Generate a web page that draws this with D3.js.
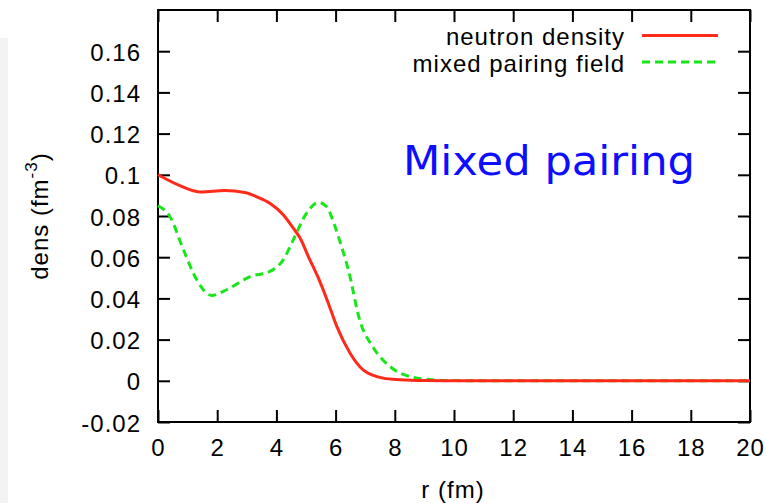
<!DOCTYPE html>
<html>
<head>
<meta charset="utf-8">
<script src="https://cdn.jsdelivr.net/npm/d3@7"></script>
<style>
  body { margin: 0; background: #fff; }
  svg { display: block; }
  text { font-family: "Liberation Sans", Arial, sans-serif; fill: #000; }
</style>
</head>
<body>
<div id="chart"></div>
<script>
// neutron density (red, solid)
const densityR = [0, 0.68, 1.46, 2.25, 2.93, 3.38, 3.78, 4.23, 4.57, 4.8, 5.08, 5.42, 5.75, 6.04, 6.49, 6.93, 7.6, 8.18, 9.0, 10, 12, 15, 20];
const densityV = [0.1, 0.0951, 0.0916, 0.0924, 0.0914, 0.0891, 0.0862, 0.0806, 0.0741, 0.0693, 0.0603, 0.0498, 0.0378, 0.0264, 0.0134, 0.0053, 0.0013, 0.0005, 0.0001, 0, 0, 0, 0];

// mixed pairing field (green, dashed)
const pairingR = [0, 0.4, 0.86, 1.31, 1.81, 2.32, 3.11, 3.78, 4.23, 4.57, 5.02, 5.42, 5.69, 5.98, 6.2, 6.43, 6.82, 7.27, 7.84, 8.18, 8.6, 9.2, 10, 12, 15, 20];
const pairingV = [0.085, 0.0798, 0.0636, 0.049, 0.0414, 0.0442, 0.0506, 0.0531, 0.0587, 0.0684, 0.0814, 0.0866, 0.0846, 0.0749, 0.0652, 0.0539, 0.0292, 0.0162, 0.0069, 0.0037, 0.0018, 0.0006, 0.0001, 0, 0, 0];

const xTicks = [0, 2, 4, 6, 8, 10, 12, 14, 16, 18, 20];
const yTicks = [-0.02, 0, 0.02, 0.04, 0.06, 0.08, 0.1, 0.12, 0.14, 0.16];
const seriesNames = ["neutron density", "mixed pairing field"];

const width = 766, height = 503;
const mLeft = 158, mRight = 750, mTop = 10, mBottom = 422;

const svg = d3.select("#chart").append("svg").attr("width", width).attr("height", height);

// faint slide background strip on the far left
svg.append("rect").attr("x", 0).attr("y", 38).attr("width", 8).attr("height", height - 38).attr("fill", "#f3f3f3");

const x = d3.scaleLinear().domain([0, 20]).range([mLeft, mRight]);
const y = d3.scaleLinear().domain([-0.02, 0.18]).range([mBottom, mTop]);

const fmt = d => String(+d.toFixed(2));

const axisFont = g => g.selectAll("text")
    .style("font-size", "24px").style("letter-spacing", "1px").attr("fill", "#000");
const axisStroke = g => {
    g.select(".domain").remove();
    g.selectAll(".tick line").attr("stroke", "#000").attr("stroke-width", 2);
};

svg.append("g").attr("transform", `translate(${mLeft},0)`)
    .call(d3.axisLeft(y).tickValues(yTicks).tickFormat(fmt).tickSizeInner(-12).tickSizeOuter(0).tickPadding(17))
    .call(axisStroke).call(axisFont)
    .selectAll("text").attr("dy", "0.38em");

svg.append("g").attr("transform", `translate(${mRight},0)`)
    .call(d3.axisRight(y).tickValues(yTicks).tickFormat("").tickSizeInner(-12).tickSizeOuter(0))
    .call(axisStroke);

svg.append("g").attr("transform", `translate(0,${mBottom})`)
    .call(d3.axisBottom(x).tickValues(xTicks).tickFormat(d => d).tickSizeInner(-12).tickSizeOuter(0).tickPadding(17))
    .call(axisStroke).call(axisFont)
    .selectAll("text").attr("dy", "0.71em");

svg.append("g").attr("transform", `translate(0,${mTop})`)
    .call(d3.axisTop(x).tickValues(xTicks).tickFormat("").tickSizeInner(-12).tickSizeOuter(0))
    .call(axisStroke);

// frame
svg.append("rect").attr("x", mLeft).attr("y", mTop).attr("width", mRight - mLeft).attr("height", mBottom - mTop)
    .attr("fill", "none").attr("stroke", "#000").attr("stroke-width", 2);

// curves
const line = d3.line().x(d => x(d[0])).y(d => y(d[1])).curve(d3.curveMonotoneX);
const density = densityR.map((r, i) => [r, densityV[i]]);
const pairing = pairingR.map((r, i) => [r, pairingV[i]]);

svg.append("path").datum(pairing).attr("d", line).attr("fill", "none")
    .attr("stroke", "#19e619").attr("stroke-width", 3).attr("stroke-dasharray", "8,5");
svg.append("path").datum(density).attr("d", line).attr("fill", "none")
    .attr("stroke", "#ff2a1a").attr("stroke-width", 3);

// legend
const legend = svg.append("g");
legend.append("text").attr("x", 625).attr("y", 45).attr("text-anchor", "end")
    .style("font-size", "24px").style("letter-spacing", "1px").text(seriesNames[0]);
legend.append("line").attr("x1", 642).attr("x2", 718).attr("y1", 35.5).attr("y2", 35.5)
    .attr("stroke", "#ff2a1a").attr("stroke-width", 3);
legend.append("text").attr("x", 625).attr("y", 72).attr("text-anchor", "end")
    .style("font-size", "24px").style("letter-spacing", "1px").text(seriesNames[1]);
legend.append("line").attr("x1", 642).attr("x2", 718).attr("y1", 62).attr("y2", 62)
    .attr("stroke", "#19e619").attr("stroke-width", 3).attr("stroke-dasharray", "8,5");

// annotation
svg.append("text").attr("x", 403).attr("y", 175)
    .attr("textLength", 292).attr("lengthAdjust", "spacingAndGlyphs")
    .style("font-family", "'Comic Sans MS', 'DejaVu Sans', sans-serif").style("font-size", "40px")
    .style("fill", "#0d0dff").text("Mixed pairing");

// axis titles
svg.append("text").attr("x", 453).attr("y", 498).attr("text-anchor", "middle")
    .style("font-size", "24px").style("letter-spacing", "1px").text("r (fm)");

const yTitle = svg.append("text").attr("transform", "translate(48,216) rotate(-90)")
    .attr("text-anchor", "middle").style("font-size", "24px").style("letter-spacing", "1px");
yTitle.append("tspan").text("dens (fm");
yTitle.append("tspan").attr("dy", -11).style("font-size", "17px").text("-3");
yTitle.append("tspan").attr("dy", 11).text(")");
</script>
</body>
</html>
